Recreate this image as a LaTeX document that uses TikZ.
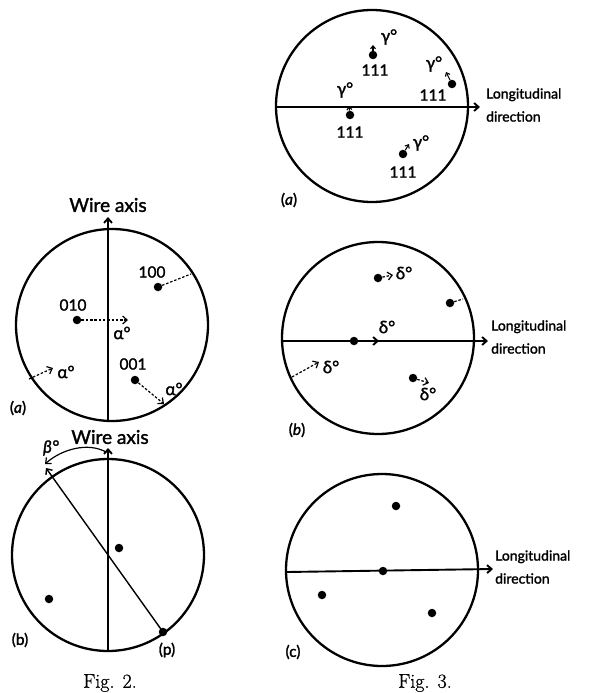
\documentclass[tikz,border=0pt]{standalone}
\usepackage{fontspec}
\newfontfamily\lab{Lato}[FakeBold=1.6]
\newfontfamily\figf{Latin Modern Roman}[FakeBold=0.8]
\usetikzlibrary{arrows.meta}
\begin{document}
\begin{tikzpicture}[x=1pt,y=-1pt,
  ring/.style={draw,circle,line width=2.3pt,inner sep=0pt,minimum size=192pt},
  dot/.style={circle,fill,inner sep=0pt,minimum size=8.5pt},
  axisline/.style={line width=1.9pt},
  thinline/.style={line width=1.4pt},
  arr/.style={-{Straight Barb[length=4.5pt,width=8pt]}},
  sarr/.style={-{Straight Barb[length=3pt,width=5pt]},line width=1.1pt},
  dsh/.style={dash pattern=on 2.5pt off 1.8pt,line width=1.2pt},
  big/.style={font=\lab\fontsize{19}{21}\selectfont,inner sep=0pt},
  lbl/.style={font=\lab\fontsize{15.5}{17}\selectfont,inner sep=0pt},
  lng/.style={font=\lab\fontsize{14}{23}\selectfont,inner sep=0pt,align=left,anchor=west},
  grk/.style={font=\lab\fontsize{17}{19}\selectfont,inner sep=0pt},
  fig/.style={font=\figf\fontsize{20}{22}\selectfont,inner sep=0pt}]
\useasboundingbox (0,0) rectangle (597,693);

% ---------------- Fig. 2 (a)
\node[ring] (A) at (112,325) {};
\coordinate (Abot) at (108,422);
\coordinate (Atop) at (108,217);
\draw[axisline,arr] (Abot) -- (Atop);
\node[big] (wa1) at (108,205) {Wire axis};
\node[dot] (p010) at (77,320) {};
\node[lbl] (l010) at (73,305) {010};
\coordinate (a1) at (128,320);
\draw[dsh,arr] (p010) -- (a1);
\node[grk] (al1) at (122,333) {α°};
\node[dot] (p100) at (158,287) {};
\node[lbl] (l100) at (152,272) {100};
\coordinate (c100) at (191,274);
\draw[dsh] (p100) -- (c100);
\coordinate (c2) at (29,379);
\coordinate (a2) at (53,368);
\draw[dsh,arr] (c2) -- (a2);
\node[grk] (al2) at (66,372) {α°};
\node[dot] (p001) at (135,380) {};
\node[lbl] (l001) at (133,364) {001};
\coordinate (a3) at (164,404);
\draw[dsh,arr] (p001) -- (a3);
\node[grk] (al3) at (174,389) {α°};
\node[lbl] (la) at (18,408) {(\textit{a})};

% ---------------- Fig. 2 (b)
\node[ring] (B) at (108,555) {};
\coordinate (Bbot) at (108,651);
\coordinate (Btop) at (108,448);
\draw[axisline,arr] (Bbot) -- (Btop);
\node[big] (wa2) at (110,437) {Wire axis};
\node[dot] (pp) at (163,632) {};
\coordinate (Btip) at (46,468);
\draw[thinline,arr] (pp.center) -- (Btip);
\coordinate (bs) at (106,452);
\coordinate (be) at (45,464);
\draw[line width=1.2pt,arr] (bs) .. controls (88,442) and (62,449) .. (be);
\node[grk] (beta) at (51,448) {\itshape β°};
\node[dot] (q1) at (119,548) {};
\node[dot] (q2) at (49,599) {};
\node[lbl] (lp) at (167,650) {(p)};
\node[lbl] (lb) at (20,640) {(b)};
\node[fig] (f2) at (110,683) {Fig. 2.};

% ---------------- Fig. 3 (a)
\node[ring] (Ca) at (372,106) {};
\coordinate (CaL) at (277,107);
\coordinate (CaR) at (480,107);
\draw[axisline,arr] (CaL) -- (CaR);
\node[lng] (ld1) at (486,105) {Longitudinal\\direction};
\node[dot] (g1) at (373,55) {};
\coordinate (g1t) at (373,45);
\draw[sarr] (g1) -- (g1t);
\node[lbl] (n1) at (375,70) {111};
\node[grk] (gm1) at (389,37) {γ°};
\node[dot] (g2) at (452,84) {};
\coordinate (g2t) at (446,72);
\draw[sarr] (g2) -- (g2t);
\node[lbl] (n2) at (433,95) {111};
\node[grk] (gm2) at (434,64) {γ°};
\node[dot] (g3) at (350,115) {};
\coordinate (g3t) at (349,106);
\draw[sarr] (g3) -- (g3t);
\node[lbl] (n3) at (350,132) {111};
\node[grk] (gm3) at (345,90) {γ°};
\node[dot] (g4) at (403,154) {};
\coordinate (g4t) at (409,144);
\draw[sarr] (g4) -- (g4t);
\node[lbl] (n4) at (403,172) {111};
\node[grk] (gm4) at (421,143) {γ°};
\node[lbl] (la3) at (289,200) {(\textit{a})};

% ---------------- Fig. 3 (b)
\node[ring] (Cb) at (378,338) {};
\coordinate (CbL) at (283,341);
\coordinate (CbR) at (488,341);
\draw[axisline,arr] (CbL) -- (CbR);
\node[lng] (ld2) at (491,337) {Longitudinal\\direction};
\node[dot] (d1) at (378,278) {};
\coordinate (d1t) at (393,275);
\draw[dsh,arr] (d1) -- (d1t);
\node[grk] (dl1) at (404,273) {δ°};
\node[dot] (d2) at (450,303) {};
\coordinate (d2c) at (463,299);
\draw[dsh] (d2) -- (d2c);
\node[dot] (d3) at (354,341) {};
\coordinate (d3t) at (379,341);
\draw[axisline,arr] (d3) -- (d3t);
\node[grk] (dl3) at (387,327) {δ°};
\coordinate (d4c) at (292,377);
\coordinate (d4t) at (319,362);
\draw[dsh,arr] (d4c) -- (d4t);
\node[grk] (dl4) at (331,367) {δ°};
\node[dot] (d5) at (413,378) {};
\coordinate (d5t) at (429,383);
\draw[dsh,arr] (d5) -- (d5t);
\node[grk] (dl5) at (428,394) {δ°};
\node[lbl] (lb3) at (297,430) {(\textit{b})};

% ---------------- Fig. 3 (c)
\node[ring] (Cc) at (382,570) {};
\coordinate (CcL) at (287,572);
\coordinate (CcR) at (493,569);
\draw[axisline,arr] (CcL) -- (CcR);
\node[lng] (ld3) at (495,567) {Longitudinal\\direction};
\node[dot] (e1) at (396,506) {};
\node[dot] (e2) at (383,571) {};
\node[dot] (e3) at (322,595) {};
\node[dot] (e4) at (432,613) {};
\node[lbl] (lc) at (293,652) {(c)};
\node[fig] (f3) at (425,683) {Fig. 3.};
\end{tikzpicture}
\end{document}
